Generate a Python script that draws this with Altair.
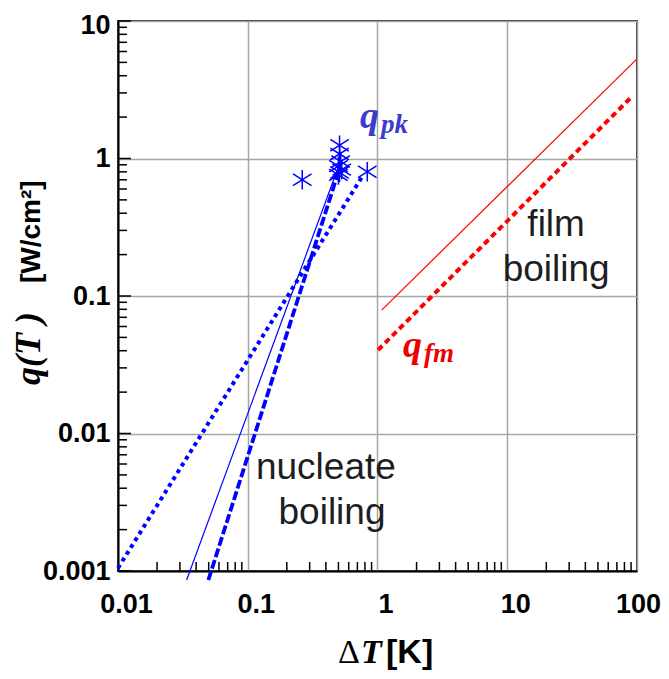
import altair as alt
import pandas as pd

# ---- axis ticks ----
x_decades = [0.01, 0.1, 1, 10, 100]
y_decades = [0.001, 0.01, 0.1, 1, 10]
minor_mult = [2, 3, 4, 5, 6, 7, 8, 9]

# ---- nucleate boiling curves (blue) ----
nuc_dotted_x = [0.0100, 0.777]
nuc_dotted_y = [0.00105, 0.76]
nuc_solid_x = [0.0338, 0.495]
nuc_solid_y = [0.00086, 0.85]
nuc_dashed_x = [0.0497, 0.50]
nuc_dashed_y = [0.00086, 0.80]

# ---- film boiling curves (red) ----
film_solid_x = [1.077, 100]
film_solid_y = [0.079, 5.3]
film_dotted_x = [1.01, 91]
film_dotted_y = [0.0405, 2.81]

# ---- peak heat flux points q_pk ----
qpk_x = [0.263, 0.51, 0.51, 0.52, 0.50, 0.53, 0.51, 0.50, 0.834]
qpk_y = [0.70, 1.25, 1.08, 0.95, 0.88, 0.83, 0.79, 0.76, 0.80]

W, H = 519, 550
xs = alt.Scale(type="log", domain=[0.01, 100], nice=False)
ys = alt.Scale(type="log", domain=[0.001, 10], nice=False)

LAB = dict(labelFont="Liberation Sans", labelFontSize=27, labelFontWeight="bold",
           labelColor="black", grid=True, gridColor="#a6a6a6", gridWidth=1.5,
           ticks=False, domainColor="black", domainWidth=2, title=None,
           format="~g", labelFlush=False, labelOverlap=False)
xaxis = alt.Axis(values=x_decades, labelPadding=20,
                 labelOffset={"condition": {"test": "datum.value >= 100", "value": 1},
                              "value": 8},
                 **LAB)
yaxis = alt.Axis(values=y_decades, labelPadding=8, labelBaseline="middle",
                 labelOffset={"condition": {"test": "datum.value >= 10", "value": 4},
                              "value": 0},
                 **LAB)

def X(f="x"):
    return alt.X(f"{f}:Q", scale=xs, axis=xaxis)

def Y(f="y"):
    return alt.Y(f"{f}:Q", scale=ys, axis=yaxis)

def line_df(xv, yv):
    return pd.DataFrame({"x": xv, "y": yv})

BLUE = "#0000ff"
RED = "#ff0000"

l_dot = alt.Chart(line_df(nuc_dotted_x, nuc_dotted_y)).mark_line(
    color=BLUE, strokeWidth=4, strokeDash=[4, 4]).encode(x=X(), y=Y())
l_sol = alt.Chart(line_df(nuc_solid_x, nuc_solid_y)).mark_line(
    color=BLUE, strokeWidth=1.2).encode(x=X(), y=Y())
l_dsh = alt.Chart(line_df(nuc_dashed_x, nuc_dashed_y)).mark_line(
    color=BLUE, strokeWidth=3.8, strokeDash=[9, 3]).encode(x=X(), y=Y())
f_sol = alt.Chart(line_df(film_solid_x, film_solid_y)).mark_line(
    color=RED, strokeWidth=1.2).encode(x=X(), y=Y())
f_dot = alt.Chart(line_df(film_dotted_x, film_dotted_y)).mark_line(
    color=RED, strokeWidth=4, strokeDash=[6, 4]).encode(x=X(), y=Y())

star = "M0,-1L0,1M-0.95,-0.6L0.95,0.6M-0.95,0.6L0.95,-0.6"
pts = alt.Chart(line_df(qpk_x, qpk_y)).mark_point(
    shape=star, size=380, filled=False, color=BLUE, strokeWidth=1.5, opacity=1
).encode(x=X(), y=Y())

# ---- inner ticks ----
y_minor = [m * d for d in y_decades[:-1] for m in minor_mult]
x_minor = [m * d for d in x_decades[:-1] for m in minor_mult]
ty_min = alt.Chart(pd.DataFrame({"y": y_minor})).mark_rule(color="black", strokeWidth=1.5).encode(
    y=Y(), x=alt.value(0), x2=alt.value(9))
ty_maj = alt.Chart(pd.DataFrame({"y": y_decades})).mark_rule(color="black", strokeWidth=1.5).encode(
    y=Y(), x=alt.value(0), x2=alt.value(13))
tx_min = alt.Chart(pd.DataFrame({"x": x_minor})).mark_rule(color="black", strokeWidth=1.5).encode(
    x=X(), y=alt.value(H), y2=alt.value(H - 9))

# ---- annotations ----
def txt(xv, yv, s, **kw):
    return alt.Chart(pd.DataFrame({"x": [xv], "y": [yv], "t": [s]})).mark_text(**kw).encode(
        x=X(), y=Y(), text="t:N")

SERIF_BI = dict(font="Liberation Serif", fontStyle="italic", fontWeight="bold",
                align="left", baseline="alphabetic")
qpk_q = txt(0.733, 1.67, "q", fontSize=38, color="#3b3bcc", **SERIF_BI)
qpk_s = txt(1.064, 1.53, "pk", fontSize=27, color="#3b3bcc", **SERIF_BI)
qfm_q = txt(1.57, 0.036, "q", fontSize=38, color="#ee0000", **SERIF_BI)
qfm_s = txt(2.28, 0.033, "fm", fontSize=27, color="#ee0000", **SERIF_BI)

SANS = dict(font="Liberation Sans", fontSize=37, color="#1e1e1e", align="center",
            baseline="middle")
t_film = txt(23.8, 0.33, "film", **SANS)
t_fboil = txt(23.8, 0.155, "boiling", **SANS)
t_nuc = txt(0.40, 0.0056, "nucleate", **SANS)
t_nboil = txt(0.446, 0.00264, "boiling", **SANS)

# ---- axis titles (pixel placement outside plot) ----
one = pd.DataFrame({"a": [0]})
def ptxt(s, px, py, **kw):
    return alt.Chart(one).mark_text(text=s, **kw).encode(x=alt.value(px), y=alt.value(py))

xt_d = ptxt("Δ", 220, 642, font="Liberation Serif", fontSize=34, align="left",
            baseline="alphabetic", color="black")
xt_t = ptxt("T", 243, 642, font="Liberation Serif", fontSize=34, fontStyle="italic",
            fontWeight="bold", align="left", baseline="alphabetic", color="black")
xt_k = ptxt("[K]", 268, 642, font="Liberation Sans", fontSize=34, fontWeight="bold",
            align="left", baseline="alphabetic", color="black")
yt_q = ptxt("q(T )", -78, 364, font="Liberation Serif", fontSize=36, fontStyle="italic",
            fontWeight="bold", align="left", baseline="alphabetic", angle=270, color="black")
yt_u = ptxt("[W/cm²]", -78, 262, font="Liberation Sans", fontSize=28, fontWeight="bold",
            align="left", baseline="alphabetic", angle=270, color="black")

chart = alt.layer(
    ty_min, ty_maj, tx_min,
    l_dot, l_sol, l_dsh, f_sol, f_dot, pts,
    qpk_q, qpk_s, qfm_q, qfm_s, t_film, t_fboil, t_nuc, t_nboil,
    xt_d, xt_t, xt_k, yt_q, yt_u,
).properties(
    width=W, height=H,
    autosize=alt.AutoSizeParams(type="none"),
    padding={"left": 110, "top": 13, "right": 24, "bottom": 100},
).configure_view(stroke="#333333", strokeWidth=2)

chart.save("out.html", embed_options={"renderer": "svg", "actions": False})
